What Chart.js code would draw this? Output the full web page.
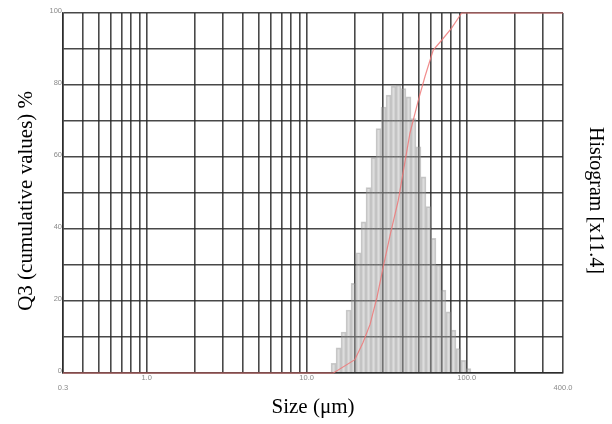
<!DOCTYPE html>
<html>
<head>
<meta charset="utf-8">
<title>Particle size distribution</title>
<script src="https://cdn.jsdelivr.net/npm/chart.js@4.4.0/dist/chart.umd.min.js"></script>
<style>
    html, body { margin: 0; padding: 0; background: #fff; }
    #wrap { width: 612px; height: 424px; }
</style>
</head>
<body>
<div id="wrap"><canvas id="psdChart" width="612" height="424"></canvas></div>
<script>
// Histogram bin centres (um) and bar heights
const binSizes = [14.72, 15.82, 17.00, 18.27, 19.63, 21.09, 22.66, 24.35, 26.17, 28.12,
                  30.22, 32.47, 34.89, 37.50, 40.29, 43.30, 46.52, 49.99, 53.72, 57.73,
                  62.03, 66.66, 71.63, 76.97, 82.71, 88.88, 95.51, 102.6];
const histValues = [2.7, 7.0, 11.4, 17.5, 24.9, 33.4, 42.0, 51.5, 59.9, 67.9,
                    73.9, 77.2, 79.7, 80.0, 79.0, 76.7, 70.7, 62.8, 54.5, 46.2,
                    37.4, 30.0, 23.0, 17.0, 11.9, 6.8, 3.5, 1.2];

// Cumulative Q3 curve
const cumSizes = [0.3, 14.7, 20.0, 22.5, 24.9, 27.5, 30.1, 33.5, 37.4, 44.2, 49.9, 55.0, 61.8, 70.0, 80.5, 93.0, 400];
const cumValues = [0, 0, 3.7, 8.5, 13.5, 21.0, 29.5, 39.0, 48.0, 66.6, 75.8, 82.5, 89.7, 92.5, 95.8, 100, 100];

// Size axis grid lines and labels
const sizeGrid = [0.3, 0.4, 0.5, 0.6, 0.7, 0.8, 0.9,
                  1, 2, 3, 4, 5, 6, 7, 8, 9,
                  10, 20, 30, 40, 50, 60, 70, 80, 90,
                  100, 200, 300, 400];
const sizeLabels = [1, 10, 100];
const sizeEndLabels = [0.3, 400];

const gridColor = 'rgba(40,40,40,0.85)';
const tickFont = { family: "'Liberation Sans', Arial, sans-serif", size: 7.5, lineHeight: 1.3 };
const titleFont = { family: "'Liberation Serif', 'Times New Roman', serif", size: 21, weight: 'normal' };

const ctx = document.getElementById('psdChart').getContext('2d');
const psdChart = new Chart(ctx, {
    type: 'bar',
    data: {
        datasets: [
            {
                type: 'line',
                label: 'Q3',
                data: cumSizes.map((s, i) => ({ x: s, y: cumValues[i] })),
                borderColor: 'rgba(238,120,120,0.85)',
                borderWidth: 1.2,
                pointRadius: 0,
                tension: 0,
                clip: false,
                order: 0
            },
            {
                type: 'bar',
                label: 'Histogram',
                data: binSizes.map((s, i) => ({ x: s, y: histValues[i] })),
                backgroundColor: 'rgba(165,165,165,0.38)',
                borderColor: 'rgba(140,140,140,0.45)',
                borderWidth: 1,
                barPercentage: 1,
                categoryPercentage: 1,
                order: 1
            }
        ]
    },
    options: {
        responsive: false,
        animation: false,
        layout: { padding: { top: 13, left: 0, right: 0, bottom: 0 } },
        plugins: {
            legend: { display: false },
            tooltip: { enabled: false }
        },
        scales: {
            x: {
                type: 'logarithmic',
                min: 0.3,
                max: 400,
                offset: false,
                grid: { offset: false, color: gridColor, lineWidth: 1.6, drawTicks: false },
                border: { color: gridColor, width: 1.6 },
                afterBuildTicks: function(scale) {
                    scale.ticks = sizeGrid.map(v => ({ value: v }));
                },
                afterFit: function(scale) { scale.height = 51; },
                ticks: {
                    autoSkip: false,
                    maxRotation: 0,
                    padding: 0,
                    color: '#8a8a8a',
                    font: tickFont,
                    callback: function(value) {
                        if (sizeLabels.includes(value)) return value.toFixed(1);
                        if (sizeEndLabels.includes(value)) return ['', value.toFixed(1)];
                        return '';
                    }
                },
                title: {
                    display: true,
                    text: 'Size (μm)',
                    color: '#000',
                    font: titleFont,
                    padding: { top: 0, bottom: 4 }
                }
            },
            y: {
                type: 'linear',
                min: 0,
                max: 100,
                grid: { color: gridColor, lineWidth: 1.6, drawTicks: false },
                border: { color: gridColor, width: 1.6 },
                afterFit: function(scale) { scale.width = 63; },
                ticks: {
                    stepSize: 10,
                    padding: 1,
                    labelOffset: -2,
                    color: '#8a8a8a',
                    font: tickFont,
                    callback: function(value) {
                        return value % 20 === 0 ? String(value) : '';
                    }
                },
                title: {
                    display: true,
                    text: 'Q3 (cumulative values) %\u00a0\u00a0\u00a0',
                    color: '#000',
                    font: titleFont,
                    padding: { top: 14, bottom: 0 }
                }
            },
            y2: {
                type: 'linear',
                position: 'right',
                min: 0,
                max: 100,
                grid: { display: false },
                border: { display: false },
                ticks: { display: false },
                afterFit: function(scale) { scale.width = 49; },
                title: {
                    display: true,
                    text: '\u00a0\u00a0\u00a0Histogram [x11.4]',
                    color: '#000',
                    font: { family: "'Liberation Serif', 'Times New Roman', serif", size: 20, weight: 'normal' },
                    padding: { top: 5, bottom: 0 }
                }
            }
        }
    }
});
</script>
</body>
</html>
